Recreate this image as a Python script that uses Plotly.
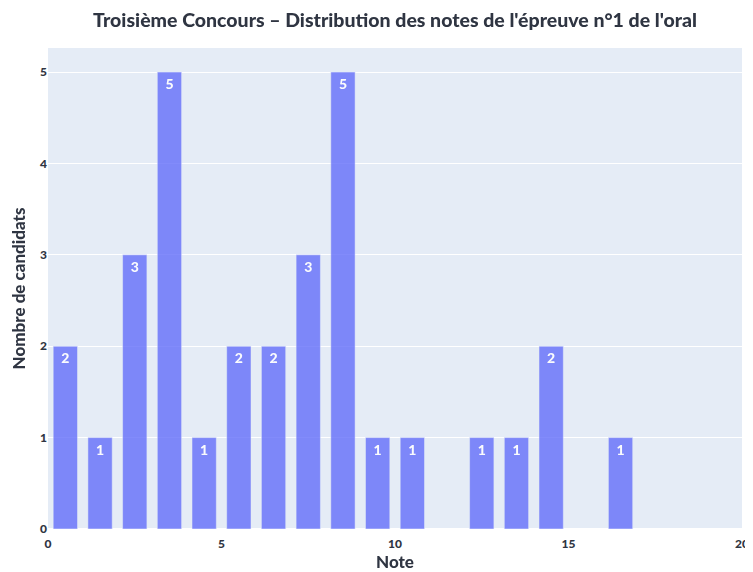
import plotly.graph_objects as go

bin_starts = [0, 1, 2, 3, 4, 5, 6, 7, 8, 9, 10, 12, 13, 14, 16]
counts = [2, 1, 3, 5, 1, 2, 2, 3, 5, 1, 1, 1, 1, 2, 1]
x_ticks = [0, 5, 10, 15, 20]
y_ticks = [0, 1, 2, 3, 4, 5]

centers = [b + 0.5 for b in bin_starts]
FONT = "Lato"
DARK = "#2f3542"
W, H = 745, 564

fig = go.Figure(go.Bar(
    x=centers, y=counts,
    marker=dict(color="#636EFA"), opacity=0.8,
    text=counts, textposition="inside", insidetextanchor="end",
    textfont=dict(family=FONT, size=14, color="white", weight=900),
    textangle=0,
))
fig.update_layout(
    template="plotly",
    width=W, height=H,
    margin=dict(l=40, r=11, t=40, b=43),
    bargap=0.3,
    font=dict(family=FONT, size=12, color=DARK, weight=900),
    title=dict(text="Troisième Concours – Distribution des notes de l'épreuve n°1 de l'oral",
               x=0.5, xref="paper", y=1 - 12 / H, yref="container", yanchor="middle", xanchor="center",
               font=dict(family=FONT, size=19.5, color=DARK, weight=900)),
    showlegend=False,
    xaxis=dict(range=[0, 20], tickvals=x_ticks, automargin=False,
               title=dict(text="Note", standoff=9, font=dict(size=17, weight=900)),
               ticks="outside", ticklen=4, tickcolor="rgba(0,0,0,0)",
               zeroline=False, tickfont=dict(size=12, weight=900)),
    yaxis=dict(tickvals=y_ticks, automargin=False,
               title=dict(text="Nombre de candidats", standoff=10, font=dict(size=17, weight=900)),
               ticklen=0, tickfont=dict(size=12, weight=900)),
)
fig.write_html("out.html")
